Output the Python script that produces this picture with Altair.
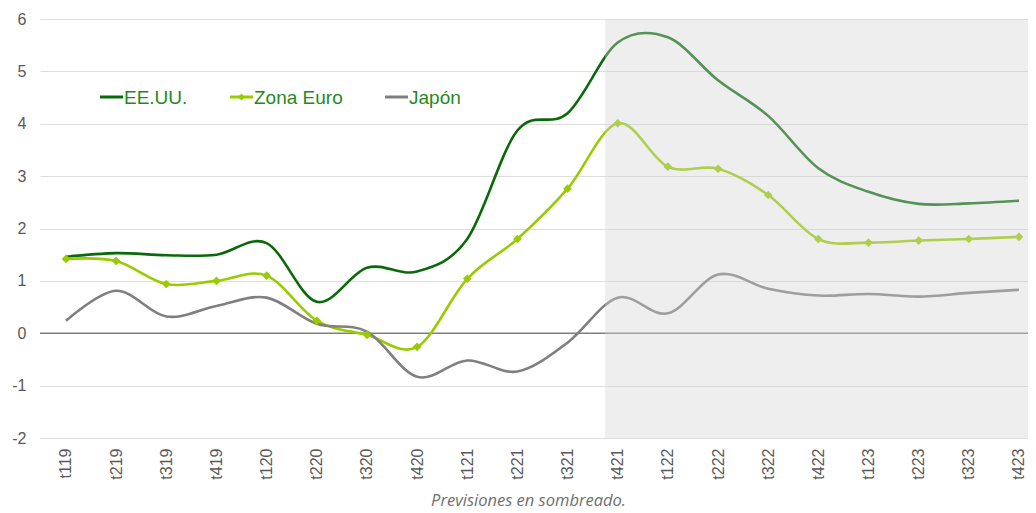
import altair as alt
import pandas as pd

quarters = ["t119", "t219", "t319", "t419", "t120", "t220", "t320", "t420",
            "t121", "t221", "t321", "t421", "t122", "t222", "t322", "t422",
            "t123", "t223", "t323", "t423"]
eeuu = [1.46, 1.53, 1.49, 1.50, 1.72, 0.60, 1.25, 1.18, 1.80, 3.87, 4.20,
        5.55, 5.65, 4.83, 4.15, 3.15, 2.70, 2.47, 2.48, 2.53]
zona_euro = [1.42, 1.38, 0.94, 1.00, 1.10, 0.24, -0.03, -0.26, 1.04, 1.80, 2.76,
             4.01, 3.18, 3.14, 2.64, 1.80, 1.73, 1.77, 1.80, 1.84]
japon = [0.24, 0.81, 0.32, 0.52, 0.68, 0.18, 0.03, -0.83, -0.52, -0.73, -0.18,
         0.68, 0.38, 1.12, 0.85, 0.72, 0.75, 0.70, 0.77, 0.83]
series_names = ["EE.UU.", "Zona Euro", "Japón"]
series_colors = ["#0a6a0a", "#99cc00", "#7f7f7f"]
forecast_start = 10.75

x_dom = [-0.518, 19.18]
y_dom = [-2, 6]

rows = []
for name, vals in zip(series_names, [eeuu, zona_euro, japon]):
    for i, v in enumerate(vals):
        rows.append({"i": i, "q": quarters[i], "serie": name, "v": v})
df = pd.DataFrame(rows)

label_expr = "[" + ",".join("'%s'" % q for q in quarters) + "][datum.value]"

xs = alt.Scale(domain=x_dom, nice=False, zero=False)
ys = alt.Scale(domain=y_dom, nice=False, zero=False)

x_enc = alt.X("i:Q", scale=xs, axis=alt.Axis(
    values=list(range(len(quarters))), labelExpr=label_expr, labelAngle=-90,
    labelAlign="right", labelBaseline="middle", labelPadding=10,
    labelFont="Liberation Sans", labelFontSize=16, labelColor="#595959",
    grid=False, ticks=False, domain=False,
    title="Previsiones en sombreado.", titleFont="Open Sans", titleFontStyle="italic",
    titleFontWeight="normal", titleFontSize=16.5, titleColor="#6f6f6f",
    titlePadding=13, titleX=488))
y_enc = alt.Y("v:Q", scale=ys, axis=alt.Axis(
    values=list(range(-2, 7)), labelExpr="'' + datum.value",
    labelFont="Liberation Sans", labelFontSize=16,
    labelColor="#595959", labelPadding=14, grid=True, gridColor="#dedede",
    gridWidth=1, ticks=False, domain=False, title=None))

base = alt.Chart(df)

lines = base.mark_line(interpolate="cardinal", tension=0, strokeWidth=2.6).encode(
    x=x_enc, y=y_enc,
    color=alt.Color("serie:N", scale=alt.Scale(domain=series_names, range=series_colors),
                    legend=None),
    detail="serie:N",
)

pts = base.transform_filter(alt.datum.serie == "Zona Euro").mark_point(
    shape="diamond", filled=True, size=75, opacity=1, color="#99cc00").encode(
    x=alt.X("i:Q", scale=xs), y=alt.Y("v:Q", scale=ys))

zero = alt.Chart(pd.DataFrame({"v": [0]})).mark_rule(color="#808080", strokeWidth=1.5).encode(
    y=alt.Y("v:Q", scale=ys))

shade_df = pd.DataFrame({"x0": [forecast_start], "x1": [x_dom[1]], "y0": [y_dom[0]], "y1": [y_dom[1]]})
shade = alt.Chart(shade_df).mark_rect(color="#d2d2d2", opacity=0.38).encode(
    x=alt.X("x0:Q", scale=xs), x2="x1:Q", y=alt.Y("y0:Q", scale=ys), y2="y1:Q")

# legend (layout positions in pixels inside the plot area)
leg_x = [60, 190, 345]
leg_y = 78
leg_layers = []
for k, (name, col) in enumerate(zip(series_names, series_colors)):
    lx = leg_x[k]
    leg_layers.append(alt.Chart(pd.DataFrame({"a": [0]})).mark_rule(
        color=col, strokeWidth=3).encode(
        x=alt.value(lx), x2=alt.value(lx + 23), y=alt.value(leg_y)))
    if name == "Zona Euro":
        leg_layers.append(alt.Chart(pd.DataFrame({"a": [0]})).mark_point(
            shape="diamond", filled=True, size=50, opacity=1, color=col).encode(
            x=alt.value(lx + 11.5), y=alt.value(leg_y)))
    leg_layers.append(alt.Chart(pd.DataFrame({"t": [name]})).mark_text(
        align="left", baseline="middle", font="Liberation Sans", fontSize=19,
        color="#1f8a1f").encode(
        x=alt.value(lx + 24), y=alt.value(leg_y + 1), text="t:N"))

chart = alt.layer(zero, lines, pts, shade, *leg_layers).properties(
    width=988, height=419,
    autosize=alt.AutoSizeParams(type="none"),
    padding={"left": 32, "top": 11, "right": 0, "bottom": 75},
).configure_view(stroke=None)

chart.save("out.html", embed_options={"renderer": "svg", "actions": False})
